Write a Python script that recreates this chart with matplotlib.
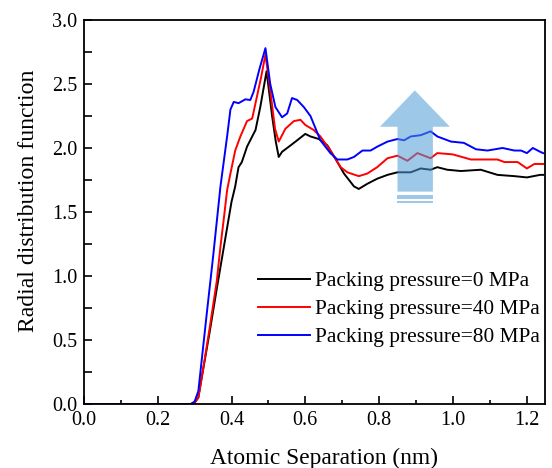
import matplotlib

matplotlib.use('Agg')

import matplotlib.pyplot as plt
from matplotlib.patches import Polygon, Rectangle
from matplotlib.ticker import FormatStrFormatter, MultipleLocator

plt.rcParams['font.family'] = ['Liberation Serif', 'DejaVu Serif']

# radial distribution function
x_0mpa = [0.00, 0.29, 0.30, 0.31, 0.32, 0.34, 0.36, 0.38, 0.40, 0.41, 0.419, 0.428,
          0.442, 0.456, 0.465, 0.478, 0.495, 0.510, 0.520, 0.528, 0.537, 0.560, 0.578,
          0.600, 0.614, 0.637, 0.660, 0.685, 0.705, 0.732, 0.745, 0.768, 0.795, 0.823,
          0.850, 0.886, 0.913, 0.940, 0.958, 0.985, 1.022, 1.076, 1.121, 1.167, 1.201,
          1.237, 1.245]
g_0mpa = [0.00, 0.00, 0.01, 0.05, 0.22, 0.55, 0.90, 1.24, 1.58, 1.70, 1.85, 1.89,
          2.01, 2.09, 2.14, 2.32, 2.60, 2.25, 2.05, 1.93, 1.97, 2.02, 2.06,
          2.11, 2.09, 2.07, 2.02, 1.90, 1.80, 1.70, 1.68, 1.72, 1.76, 1.79,
          1.81, 1.81, 1.84, 1.83, 1.85, 1.83, 1.82, 1.83, 1.79, 1.78, 1.77,
          1.79, 1.79]

x_40mpa = [0.00, 0.29, 0.30, 0.31, 0.32, 0.34, 0.36, 0.37, 0.38, 0.388, 0.397, 0.41,
           0.424, 0.442, 0.456, 0.465, 0.480, 0.492, 0.505, 0.518, 0.528, 0.546, 0.569,
           0.587, 0.600, 0.623, 0.641, 0.668, 0.696, 0.714, 0.745, 0.768, 0.795, 0.823,
           0.850, 0.877, 0.904, 0.922, 0.940, 0.958, 1.000, 1.049, 1.121, 1.140, 1.176,
           1.201, 1.221, 1.245]
g_40mpa = [0.00, 0.00, 0.01, 0.05, 0.22, 0.58, 0.96, 1.23, 1.47, 1.67, 1.80, 1.98,
           2.09, 2.21, 2.23, 2.35, 2.55, 2.73, 2.45, 2.15, 2.05, 2.15, 2.21,
           2.22, 2.18, 2.14, 2.09, 1.98, 1.85, 1.81, 1.78, 1.80, 1.85, 1.92,
           1.94, 1.90, 1.96, 1.94, 1.92, 1.96, 1.95, 1.91, 1.91, 1.89, 1.89,
           1.84, 1.875, 1.875]

x_80mpa = [0.00, 0.29, 0.30, 0.31, 0.333, 0.35, 0.37, 0.388, 0.397, 0.406, 0.419, 0.4375,
           0.451, 0.460, 0.476, 0.492, 0.505, 0.519, 0.537, 0.551, 0.564, 0.578, 0.596,
           0.614, 0.641, 0.668, 0.687, 0.714, 0.732, 0.755, 0.777, 0.795, 0.823, 0.850,
           0.868, 0.886, 0.913, 0.940, 0.958, 0.995, 1.030, 1.063, 1.094, 1.135, 1.167,
           1.185, 1.201, 1.217, 1.237, 1.245]
g_80mpa = [0.00, 0.00, 0.02, 0.10, 0.71, 1.15, 1.70, 2.09, 2.30, 2.36, 2.35, 2.38,
           2.375, 2.44, 2.62, 2.78, 2.50, 2.32, 2.24, 2.27, 2.39, 2.375, 2.32,
           2.25, 2.06, 1.96, 1.91, 1.91, 1.93, 1.98, 1.98, 2.01, 2.05, 2.07,
           2.06, 2.09, 2.10, 2.13, 2.09, 2.05, 2.04, 1.99, 1.98, 2.00, 1.98,
           1.98, 1.96, 2.00, 1.97, 1.96]

labels = ['Packing pressure=0 MPa', 'Packing pressure=40 MPa', 'Packing pressure=80 MPa']
colors = ['black', 'red', 'blue']

fig = plt.figure(figsize=(5.52, 4.68), dpi=100)
ax = fig.add_axes([0.1522, 0.1368, 0.8351, 0.8205])

for xs, ys, label, color in zip([x_0mpa, x_40mpa, x_80mpa], [g_0mpa, g_40mpa, g_80mpa], labels, colors):
    ax.plot(xs, ys, color=color, linewidth=1.4, label=label)

# light blue "increasing" arrow drawn over the curves
arrow_color = '#4E9BD6'
head = Polygon([(0.850, 1.659), (0.850, 2.166), (0.8025, 2.166), (0.897, 2.45),
                (0.992, 2.166), (0.946, 2.166), (0.946, 1.659)],
               closed=True, facecolor=arrow_color, edgecolor='none', alpha=0.55, zorder=5)
ax.add_patch(head)
ax.add_patch(Rectangle((0.850, 1.602), 0.096, 0.031, facecolor=arrow_color,
                       edgecolor='none', alpha=0.55, zorder=5))
ax.add_patch(Rectangle((0.850, 1.573), 0.096, 0.013, facecolor=arrow_color,
                       edgecolor='none', alpha=0.55, zorder=5))

ax.set_xlim(0, 1.25)
ax.set_ylim(0, 3.0)
ax.xaxis.set_major_locator(MultipleLocator(0.2))
ax.xaxis.set_minor_locator(MultipleLocator(0.1))
ax.yaxis.set_major_locator(MultipleLocator(0.5))
ax.yaxis.set_minor_locator(MultipleLocator(0.25))
ax.tick_params(axis='both', which='major', direction='in', length=5.5, width=1.2,
               labelsize=14.5, pad=5)
ax.tick_params(axis='x', which='minor', direction='in', length=3, width=1.2)
ax.tick_params(axis='y', which='minor', direction='in', length=5.5, width=1.2)
ax.tick_params(top=False, right=False, which='both')
ax.xaxis.set_major_formatter(FormatStrFormatter('%.1f'))
ax.yaxis.set_major_formatter(FormatStrFormatter('%.1f'))
for spine in ax.spines.values():
    spine.set_linewidth(1.3)

ax.set_xlabel('Atomic Separation (nm)', fontsize=16.8, labelpad=13)
ax.xaxis.label.set_x(0.52)
ax.set_ylabel('Radial distribution function', fontsize=17.1, labelpad=9)
ax.yaxis.label.set_y(0.529)

ax.legend(loc='upper left', bbox_to_anchor=(0.377, 0.346), frameon=False, fontsize=15.4,
          handlelength=2.43, handletextpad=0.23, labelspacing=0.38, borderpad=0,
          borderaxespad=0)

fig.savefig('out.png', dpi=100)
